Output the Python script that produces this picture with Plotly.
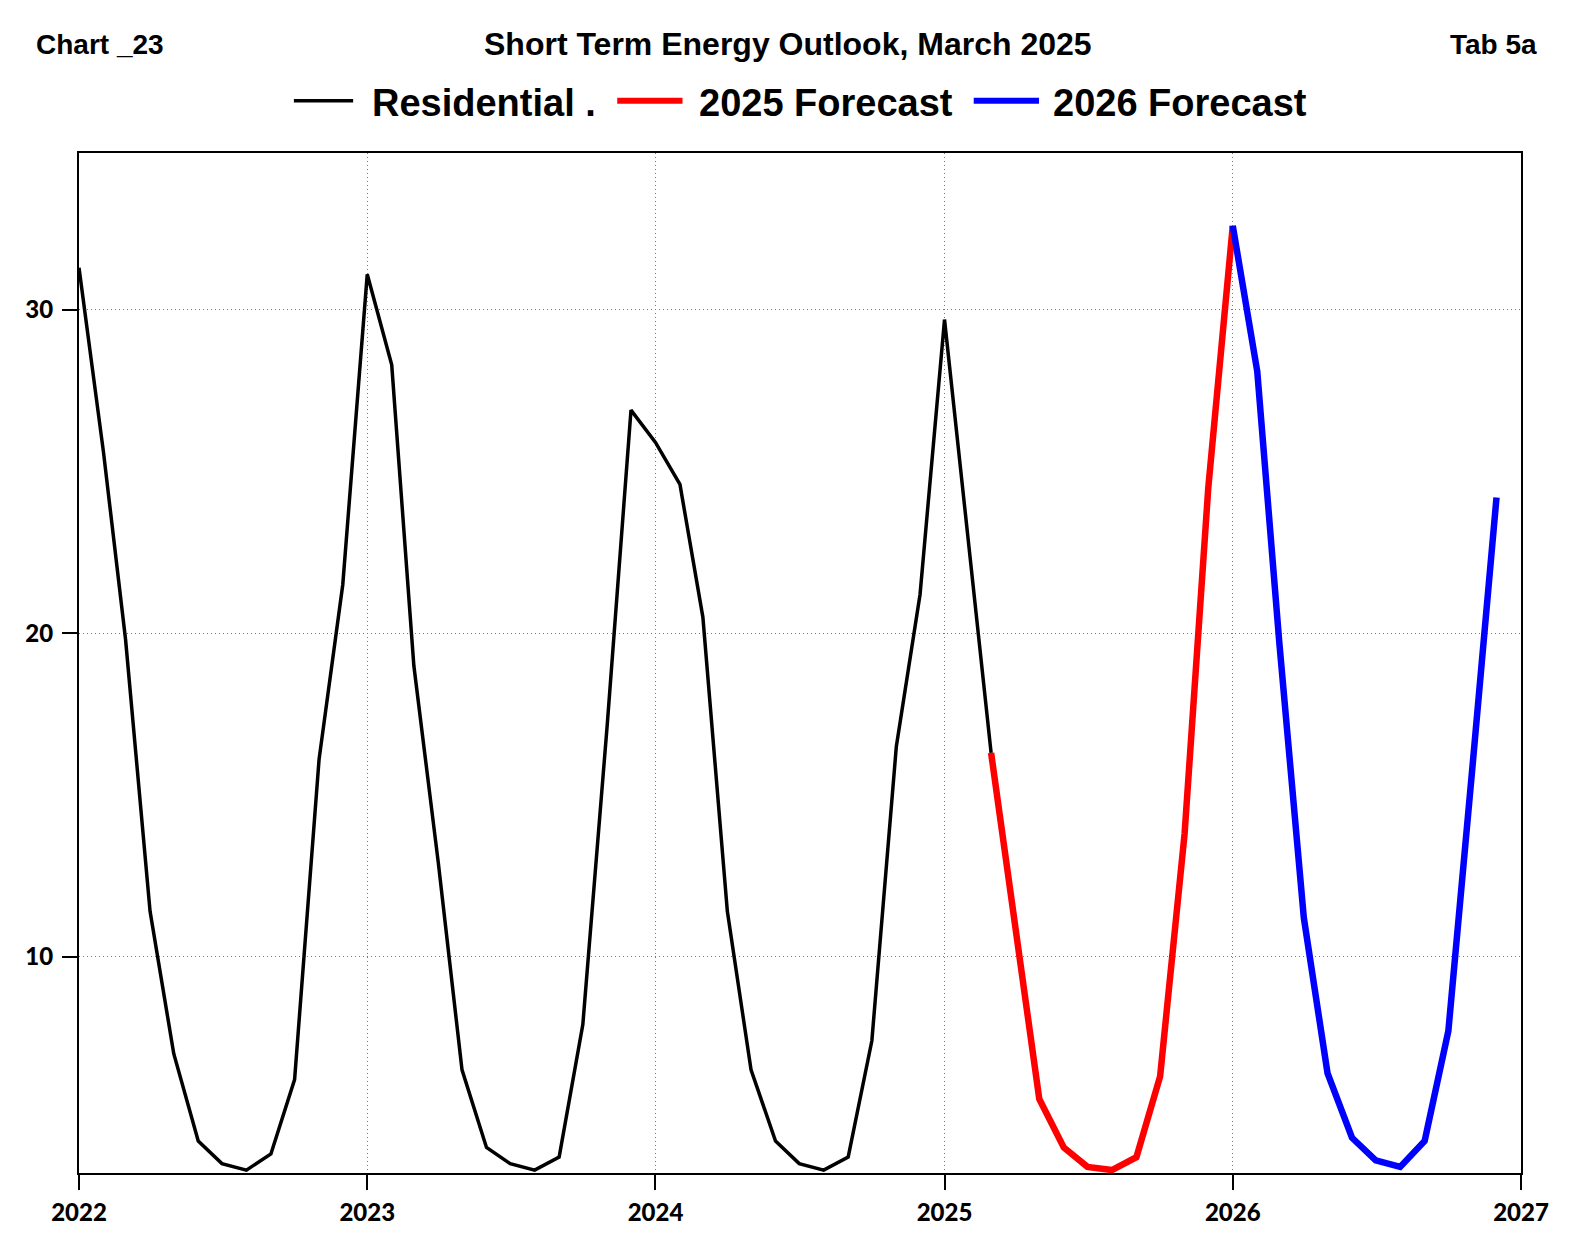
import plotly.graph_objects as go

# ---- data ----
res_dates = [f"{y}-{m:02d}-01" for y in (2022, 2023, 2024) for m in range(1, 13)] + \
            ["2025-01-01", "2025-02-01", "2025-03-01"]
res_values = [31.3, 25.6, 19.8, 11.4, 7.0, 4.3, 3.6, 3.4, 3.9, 6.2, 16.1, 21.5,
              31.1, 28.3, 19.0, 12.9, 6.5, 4.1, 3.6, 3.4, 3.8, 7.9, 17.2, 26.9,
              25.9, 24.6, 20.5, 11.4, 6.5, 4.3, 3.6, 3.4, 3.8, 7.4, 16.5, 21.2,
              29.7, 22.6, 16.3]

f25_dates = [f"2025-{m:02d}-01" for m in range(3, 13)] + ["2026-01-01"]
f25_values = [16.3, 11.0, 5.6, 4.1, 3.5, 3.4, 3.8, 6.3, 13.8, 24.5, 32.6]

f26_dates = [f"2026-{m:02d}-01" for m in range(1, 13)]
f26_values = [32.6, 28.1, 19.7, 11.2, 6.4, 4.4, 3.7, 3.5, 4.3, 7.7, 16.0, 24.2]

year_ticks = ["2022-01-01", "2023-01-01", "2024-01-01", "2025-01-01", "2026-01-01", "2027-01-01"]
year_labels = ["2022", "2023", "2024", "2025", "2026", "2027"]
y_ticks = [10, 20, 30]

legend_names = ["Residential .", "2025 Forecast", "2026 Forecast"]
legend_colors = ["black", "#ff0000", "#0000ff"]

fig = go.Figure()
fig.add_trace(go.Scatter(x=res_dates, y=res_values, mode="lines",
                         line=dict(color="black", width=3.5), showlegend=False))
fig.add_trace(go.Scatter(x=f25_dates, y=f25_values, mode="lines",
                         line=dict(color="#ff0000", width=6.5), showlegend=False))
fig.add_trace(go.Scatter(x=f26_dates, y=f26_values, mode="lines",
                         line=dict(color="#0000ff", width=6.5), showlegend=False))

# page layout: the page body has an 8px default margin on every side
OFF = 8
PL, PR, PT, PB = 79, 1515, 153, 1167   # target plot area in page pixels
FW, FH = 1575 - 2 * OFF, 1260 - 2 * OFF
ADJ_R, ADJ_B = 6, 6                   # empirical correction of the right/bottom edges


def px(xp):
    return (xp - PL) / (PR - PL)


def py(yp):
    return (PB - yp) / (PB - PT)


fig.update_layout(
    width=FW, height=FH,
    margin=dict(l=PL - OFF, r=(OFF + FW) - PR - ADJ_R, t=PT - OFF,
                b=(OFF + FH) - PB - ADJ_B, autoexpand=False),
    paper_bgcolor="white", plot_bgcolor="white",
    showlegend=False,
    font=dict(family="Lato", color="black"),
)
axis_common = dict(
    automargin=False,
    tickfont=dict(family="Lato", size=24, color="black", weight=900),
    ticks="outside", ticklen=15, tickwidth=2, tickcolor="black",
    showline=True, linecolor="black", linewidth=2, mirror=True,
    showgrid=True, gridcolor="#777777", gridwidth=1, griddash="1px,3px",
    zeroline=False,
)
fig.update_xaxes(
    type="date", range=["2022-01-01", "2027-01-01"],
    tickvals=year_ticks, ticktext=year_labels,
    ticklabelstandoff=2, **axis_common,
)
fig.update_yaxes(
    range=[3.31, 34.85],
    tickvals=y_ticks, ticktext=[str(v) for v in y_ticks],
    ticklabelstandoff=4, **axis_common,
)

ann = []
ann.append(dict(text="<b>Chart _23</b>", x=px(34), y=py(45), xref="paper", yref="paper",
                xanchor="left", yanchor="middle", showarrow=False,
                font=dict(family="Liberation Sans", size=28, color="black")))
ann.append(dict(text="<b>Tab 5a</b>", x=px(1533), y=py(45), xref="paper", yref="paper",
                xanchor="right", yanchor="middle", showarrow=False,
                font=dict(family="Liberation Sans", size=28, color="black")))
ann.append(dict(text="<b>Short Term Energy Outlook, March 2025</b>", x=px(785), y=py(45),
                xref="paper", yref="paper", xanchor="center", yanchor="middle", showarrow=False,
                font=dict(family="Liberation Sans", size=32, color="black")))

# manual legend
leg_line_x = [(293, 352), (615, 680), (970, 1035)]
leg_text_x = [369, 694, 1047]
leg_widths = [3.5, 6, 6]
shapes = []
for i, name in enumerate(legend_names):
    x0, x1 = leg_line_x[i]
    shapes.append(dict(type="line", xref="paper", yref="paper",
                       x0=px(x0), x1=px(x1), y0=py(101), y1=py(101),
                       line=dict(color=legend_colors[i], width=leg_widths[i])))
    ann.append(dict(text=f"<b>{name}</b>", x=px(leg_text_x[i]), y=py(103),
                    xref="paper", yref="paper", xanchor="left", yanchor="middle",
                    showarrow=False,
                    font=dict(family="Liberation Sans", size=38, color="black")))

fig.update_layout(annotations=ann, shapes=shapes)
fig.write_html("out.html")
